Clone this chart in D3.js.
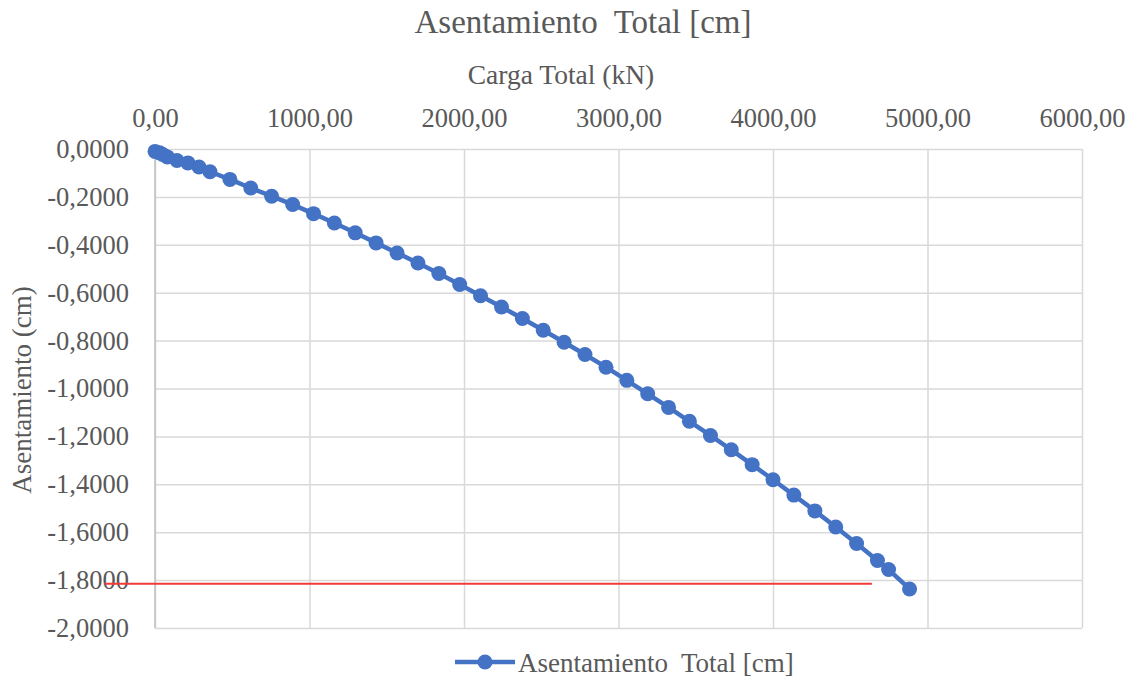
<!DOCTYPE html>
<html>
<head>
<meta charset="utf-8">
<script src="https://cdn.jsdelivr.net/npm/d3@7"></script>
<style>
  html, body { margin: 0; padding: 0; background: #ffffff; }
  svg { display: block; }
  text { font-family: "Liberation Serif", "Times New Roman", serif; fill: #595959; white-space: pre; }
</style>
</head>
<body>
<svg id="chart" width="1133" height="679"></svg>
<script>
// Load test: total load (kN) vs. total settlement (cm)
const cargaTotal = [0, 30, 50, 80, 142, 213, 285, 356, 485, 620, 755, 891, 1026, 1161, 1296, 1431,
  1567, 1702, 1837, 1972, 2107, 2243, 2378, 2513, 2648, 2783, 2919, 3054, 3189, 3324, 3459,
  3595, 3730, 3865, 4000, 4135, 4271, 4406, 4541, 4676, 4748, 4884];
const asentamiento = [-0.010, -0.016, -0.023, -0.033, -0.048, -0.058, -0.075, -0.095, -0.127, -0.163,
  -0.197, -0.232, -0.270, -0.309, -0.350, -0.392, -0.434, -0.476, -0.520, -0.566, -0.613,
  -0.660, -0.708, -0.757, -0.807, -0.858, -0.911, -0.966, -1.022, -1.079, -1.137, -1.196,
  -1.256, -1.318, -1.381, -1.445, -1.511, -1.578, -1.647, -1.718, -1.756, -1.837];

// Admissible settlement reference line
const limiteCarga = [-325, 4640];
const limiteAsentamiento = -1.815;

const xTicks = [0, 1000, 2000, 3000, 4000, 5000, 6000];
const yTicks = [0, -0.2, -0.4, -0.6, -0.8, -1.0, -1.2, -1.4, -1.6, -1.8, -2.0];

const chartTitle = "Asentamiento  Total [cm]";
const xTitle = "Carga Total (kN)";
const yTitle = "Asentamiento (cm)";
const seriesName = "Asentamiento  Total [cm]";

const svg = d3.select("#chart");
const locale = d3.formatLocale({ decimal: ",", thousands: "", grouping: [3], currency: ["", ""], minus: "-" });
const fmtX = locale.format(".2f");
const fmtY = locale.format(".4f");

const plotL = 155, plotR = 1082, plotT = 149, plotB = 628;
const x = d3.scaleLinear().domain([0, 6000]).range([plotL, plotR]);
const y = d3.scaleLinear().domain([0, -2]).range([plotT, plotB]);

// Gridlines
const grid = svg.append("g");
grid.append("g").attr("transform", `translate(0,${plotT})`)
  .call(d3.axisBottom(x).tickValues(xTicks).tickSize(plotB - plotT).tickFormat(""))
  .call(g => g.select(".domain").remove())
  .call(g => g.selectAll("line").attr("stroke", "#d9d9d9").attr("stroke-width", 1.5));
grid.append("g").attr("transform", `translate(${plotL},0)`)
  .call(d3.axisRight(y).tickValues(yTicks).tickSize(plotR - plotL).tickFormat(""))
  .call(g => g.select(".domain").remove())
  .call(g => g.selectAll("line").attr("stroke", "#d9d9d9").attr("stroke-width", 1.5));

// Vertical axis line
svg.append("line").attr("x1", plotL).attr("x2", plotL).attr("y1", plotT).attr("y2", plotB)
  .attr("stroke", "#bfbfbf").attr("stroke-width", 1.5);

// Tick labels
const xAxis = svg.append("g").attr("transform", `translate(0,${plotT - 22})`)
  .call(d3.axisTop(x).tickValues(xTicks).tickSize(0).tickPadding(0).tickFormat(fmtX));
xAxis.select(".domain").remove();
xAxis.selectAll("text").attr("font-size", 26.5).attr("font-family", "Liberation Serif").attr("fill", "#595959");

const yAxis = svg.append("g").attr("transform", `translate(${plotL - 26},0)`)
  .call(d3.axisLeft(y).tickValues(yTicks).tickSize(0).tickPadding(0).tickFormat(fmtY));
yAxis.select(".domain").remove();
yAxis.selectAll("text").attr("font-size", 26.5).attr("font-family", "Liberation Serif").attr("fill", "#595959");

// Titles
svg.append("text").attr("x", 583).attr("y", 33).attr("text-anchor", "middle")
  .attr("font-size", 33).text(chartTitle);
svg.append("text").attr("x", 561).attr("y", 84).attr("text-anchor", "middle")
  .attr("font-size", 27.5).text(xTitle);
svg.append("text").attr("transform", "translate(31,390) rotate(-90)").attr("text-anchor", "middle")
  .attr("font-size", 27).text(yTitle);

// Reference line
svg.append("line")
  .attr("x1", x(limiteCarga[0])).attr("x2", x(limiteCarga[1]))
  .attr("y1", y(limiteAsentamiento)).attr("y2", y(limiteAsentamiento))
  .attr("stroke", "#f23a3a").attr("stroke-width", 2);

// Series
const data = cargaTotal.map((c, i) => ({ c, a: asentamiento[i] }));
const blue = "#4472c4";
svg.append("path").datum(data)
  .attr("fill", "none").attr("stroke", blue).attr("stroke-width", 4.5).attr("stroke-linejoin", "round")
  .attr("d", d3.line().x(d => x(d.c)).y(d => y(d.a)));
svg.append("g").selectAll("circle").data(data).join("circle")
  .attr("cx", d => x(d.c)).attr("cy", d => y(d.a)).attr("r", 7.5).attr("fill", blue);

// Legend
const lg = svg.append("g").attr("transform", "translate(455,662)");
lg.append("line").attr("x1", 0).attr("x2", 60).attr("stroke", blue).attr("stroke-width", 4.5);
lg.append("circle").attr("cx", 30).attr("r", 7.5).attr("fill", blue);
lg.append("text").attr("x", 63).attr("y", 10).attr("font-size", 27).text(seriesName);
</script>
</body>
</html>
